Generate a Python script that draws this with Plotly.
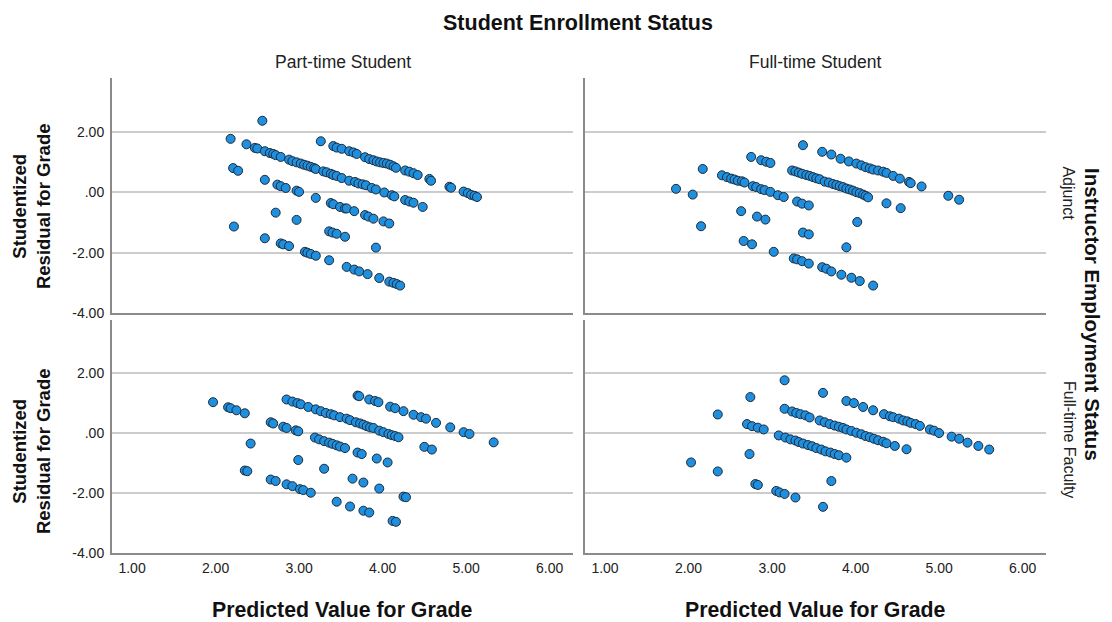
import plotly.graph_objects as go

# ---- data: (Predicted Value for Grade, Studentized Residual for Grade) ----
adjunct_part_time = [
    (2.56, 2.38), (2.18, 1.78), (2.37, 1.60), (2.47, 1.48), (2.50, 1.46), (2.59, 1.37), (2.65, 1.31),
    (2.69, 1.28), (2.72, 1.24), (2.78, 1.18), (2.88, 1.09), (2.92, 1.04), (2.97, 1.00), (3.02, 0.96),
    (3.06, 0.92), (3.10, 0.89), (3.14, 0.85), (3.18, 0.81), (3.20, 0.78), (3.29, 0.70), (3.33, 0.67),
    (3.38, 0.62), (3.41, 0.58), (3.45, 0.55), (3.51, 0.48), (3.60, 0.39), (3.67, 0.35), (3.71, 0.30),
    (3.76, 0.27), (3.80, 0.24), (3.87, 0.15), (3.92, 0.10), (4.02, 0.00), (4.11, -0.09), (4.14, -0.13),
    (4.27, -0.25), (4.32, -0.30), (4.37, -0.34), (4.48, -0.48),
    (3.26, 1.70), (3.41, 1.54), (3.45, 1.49), (3.51, 1.45), (3.60, 1.37), (3.65, 1.33), (3.69, 1.28),
    (3.79, 1.17), (3.84, 1.11), (3.89, 1.07), (3.93, 1.03), (3.97, 1.00), (4.01, 0.98), (4.05, 0.96),
    (4.09, 0.92), (4.13, 0.87), (4.16, 0.82), (4.27, 0.73), (4.32, 0.69), (4.37, 0.64), (4.42, 0.58),
    (4.56, 0.45), (4.58, 0.39), (4.80, 0.19), (4.82, 0.16), (4.97, 0.03), (5.02, -0.02), (5.06, -0.08),
    (5.10, -0.11), (5.13, -0.15),
    (2.21, 0.81), (2.27, 0.72), (2.59, 0.42), (2.74, 0.26), (2.78, 0.21), (2.84, 0.15), (2.97, 0.06),
    (3.00, 0.02), (3.20, -0.18), (3.38, -0.35), (3.41, -0.39), (3.49, -0.48), (3.55, -0.53), (3.57, -0.53),
    (3.66, -0.62), (3.79, -0.75), (3.83, -0.80), (3.89, -0.87), (4.01, -0.96), (4.08, -1.03),
    (2.72, -0.67), (2.97, -0.91), (2.22, -1.13), (3.36, -1.29), (3.40, -1.33), (3.45, -1.37), (3.55, -1.47),
    (3.92, -1.83), (2.59, -1.52), (2.78, -1.69), (2.81, -1.72), (2.88, -1.78), (3.07, -1.97), (3.10, -2.00),
    (3.14, -2.04), (3.20, -2.10), (3.36, -2.25), (3.57, -2.47), (3.66, -2.56), (3.72, -2.62), (3.82, -2.71),
    (3.96, -2.84), (4.08, -2.96), (4.13, -3.00), (4.17, -3.04), (4.21, -3.09),
]

adjunct_full_time = [
    (3.37, 1.57), (2.75, 1.18), (2.87, 1.07), (2.93, 1.02), (2.98, 0.98), (2.17, 0.78), (1.85, 0.12),
    (2.05, -0.07), (2.40, 0.57), (2.46, 0.51), (2.51, 0.46), (2.55, 0.43), (2.59, 0.39), (2.64, 0.37),
    (2.67, 0.33), (2.77, 0.21), (2.81, 0.18), (2.87, 0.11), (2.91, 0.08), (2.98, 0.02), (3.07, -0.09),
    (3.14, -0.15), (3.30, -0.30), (3.36, -0.37), (3.44, -0.43),
    (3.24, 0.73), (3.28, 0.70), (3.32, 0.66), (3.36, 0.62), (3.41, 0.58), (3.45, 0.55), (3.49, 0.51),
    (3.53, 0.47), (3.57, 0.44), (3.63, 0.36), (3.68, 0.33), (3.73, 0.28), (3.77, 0.25), (3.81, 0.21),
    (3.85, 0.18), (3.89, 0.13), (3.93, 0.10), (3.97, 0.06), (4.01, 0.01), (4.05, -0.02), (4.09, -0.07),
    (4.12, -0.11), (4.15, -0.16),
    (3.60, 1.35), (3.71, 1.26), (3.82, 1.12), (3.92, 1.03), (4.01, 0.96), (4.07, 0.90), (4.12, 0.84),
    (4.17, 0.80), (4.21, 0.76), (4.27, 0.73), (4.33, 0.69), (4.37, 0.65), (4.45, 0.55), (4.53, 0.46),
    (4.64, 0.35), (4.66, 0.31), (4.79, 0.20),
    (5.11, -0.11), (5.24, -0.24), (4.37, -0.36), (4.54, -0.52), (4.02, -0.98), (2.63, -0.62), (2.82, -0.80),
    (2.92, -0.90), (2.15, -1.12), (3.37, -1.33), (3.44, -1.39), (3.89, -1.82), (2.66, -1.61), (2.76, -1.72),
    (3.02, -1.97), (3.26, -2.19), (3.30, -2.22), (3.36, -2.28), (3.44, -2.36), (3.60, -2.48), (3.65, -2.53),
    (3.71, -2.62), (3.83, -2.73), (3.95, -2.83), (4.05, -2.94), (4.21, -3.09),
]

faculty_part_time = [
    (1.97, 1.03), (2.15, 0.86), (2.18, 0.83), (2.25, 0.76), (2.35, 0.66), (2.66, 0.36), (2.69, 0.32),
    (2.81, 0.21), (2.85, 0.17), (2.96, 0.09), (2.99, 0.06), (2.42, -0.35),
    (2.85, 1.12), (2.92, 1.05), (2.98, 1.00), (3.02, 0.96), (3.11, 0.87), (3.20, 0.79), (3.26, 0.73),
    (3.32, 0.67), (3.38, 0.63), (3.42, 0.59), (3.49, 0.53), (3.57, 0.48), (3.61, 0.43), (3.68, 0.36),
    (3.73, 0.32), (3.77, 0.28), (3.81, 0.23), (3.85, 0.19), (3.89, 0.17), (3.96, 0.08), (4.01, 0.03),
    (4.07, -0.03), (4.11, -0.07), (4.15, -0.10), (4.19, -0.14),
    (3.70, 1.25), (3.72, 1.23), (3.84, 1.12), (3.91, 1.07), (3.95, 1.03), (4.09, 0.88), (4.15, 0.83),
    (4.25, 0.73), (4.37, 0.61), (4.46, 0.53), (4.52, 0.48), (4.64, 0.34), (4.81, 0.19), (4.97, 0.03),
    (5.04, -0.03),
    (5.33, -0.31), (4.50, -0.46), (4.59, -0.55),
    (3.19, -0.15), (3.24, -0.21), (3.30, -0.27), (3.36, -0.32), (3.40, -0.36), (3.45, -0.41), (3.49, -0.45),
    (3.55, -0.50), (3.70, -0.65), (3.75, -0.70), (3.93, -0.85), (4.06, -0.98), (2.99, -0.90), (3.30, -1.19),
    (2.35, -1.25), (2.38, -1.27), (2.66, -1.55), (2.72, -1.60), (2.85, -1.71), (2.92, -1.77), (3.01, -1.87),
    (3.05, -1.90), (3.14, -1.99), (3.64, -1.52), (3.77, -1.65), (3.96, -1.85), (4.25, -2.12), (4.28, -2.14),
    (3.45, -2.29), (3.61, -2.45), (3.77, -2.59), (3.84, -2.65), (4.12, -2.93), (4.16, -2.96),
]

faculty_full_time = [
    (3.15, 1.76), (3.61, 1.34), (2.74, 1.20), (2.35, 0.62), (2.70, 0.30), (2.76, 0.23), (2.83, 0.18),
    (2.90, 0.12), (3.15, 0.81), (3.24, 0.72), (3.29, 0.67), (3.34, 0.63), (3.40, 0.59), (3.45, 0.52),
    (3.57, 0.42), (3.63, 0.36), (3.69, 0.30), (3.75, 0.25), (3.80, 0.21), (3.85, 0.17), (3.89, 0.12),
    (3.95, 0.07), (4.01, 0.01), (4.07, -0.04), (4.12, -0.10), (4.17, -0.14), (4.22, -0.19), (4.27, -0.24),
    (4.33, -0.29), (4.37, -0.34), (4.47, -0.43), (4.61, -0.54),
    (3.89, 1.07), (3.98, 1.00), (4.09, 0.87), (4.21, 0.76), (4.34, 0.63), (4.41, 0.56), (4.45, 0.53),
    (4.52, 0.48), (4.57, 0.42), (4.62, 0.39), (4.66, 0.34), (4.72, 0.30), (4.77, 0.24), (4.89, 0.12),
    (4.94, 0.08), (5.00, 0.00), (5.15, -0.12), (5.24, -0.19), (5.34, -0.32), (5.47, -0.43), (5.60, -0.55),
    (3.08, -0.08), (3.16, -0.15), (3.22, -0.21), (3.28, -0.25), (3.32, -0.30), (3.37, -0.35), (3.43, -0.40),
    (3.48, -0.44), (3.53, -0.50), (3.59, -0.55), (3.64, -0.61), (3.70, -0.65), (3.75, -0.70), (3.80, -0.74),
    (3.89, -0.82),
    (2.73, -0.70), (2.03, -0.98), (2.35, -1.28), (2.80, -1.70), (2.83, -1.73), (3.71, -1.60), (3.05, -1.93),
    (3.09, -1.98), (3.15, -2.03), (3.28, -2.15), (3.61, -2.46),
]

col_labels = ["Part-time Student", "Full-time Student"]
row_labels = ["Adjunct", "Full-time Faculty"]
x_ticks = [1, 2, 3, 4, 5, 6]
x_ticktext = ["1.00", "2.00", "3.00", "4.00", "5.00", "6.00"]
y_ticks = [-4, -2, 0, 2]
y_ticktext = ["-4.00", "-2.00", ".00", "2.00"]

FONT = "Liberation Sans, Arial, sans-serif"
MARKER_FILL = "#1f8fe0"
MARKER_EDGE = "#1c2b3a"
AXIS_COLOR = "#8a8a8a"
GRID_COLOR = "#cccccc"

fig = go.Figure()
panels = [
    (adjunct_part_time, "x3", "y3"),
    (adjunct_full_time, "x4", "y4"),
    (faculty_part_time, "x", "y"),
    (faculty_full_time, "x2", "y2"),
]
for pts, xa, ya in panels:
    fig.add_trace(go.Scatter(
        x=[p[0] for p in pts], y=[p[1] for p in pts], xaxis=xa, yaxis=ya,
        mode="markers", showlegend=False, hoverinfo="x+y",
        marker=dict(size=9, color=MARKER_FILL, line=dict(color=MARKER_EDGE, width=1)),
    ))

xdom_l = [0, 0.4936]
xdom_r = [0.5064, 1]
ydom_t = [0.5053, 1]
ydom_b = [0, 0.4905]
xrange_ = [0.76, 6.28]

def xax(domain, anchor, labels):
    return dict(domain=domain, anchor=anchor, range=xrange_, tickvals=x_ticks, ticktext=x_ticktext,
                showticklabels=labels, showgrid=False, zeroline=False, showline=True,
                linecolor=AXIS_COLOR, linewidth=2, ticks="outside", ticklen=1,
                tickcolor="rgba(0,0,0,0)", tickfont=dict(family=FONT, size=14, color="#222"))

def yax(domain, anchor, rng, labels):
    return dict(domain=domain, anchor=anchor, range=rng, tickvals=y_ticks, ticktext=y_ticktext,
                showticklabels=labels, showgrid=True, gridcolor=GRID_COLOR, gridwidth=1.5,
                zeroline=False, showline=True, linecolor=AXIS_COLOR, linewidth=2,
                ticks="outside", ticklen=3, tickcolor="rgba(0,0,0,0)",
                tickfont=dict(family=FONT, size=14, color="#222"))

# page body adds an 8px offset, so the figure is 8px smaller on the top/left margins
fig.update_layout(
    width=1104, height=614,
    margin=dict(l=104, r=66, t=70, b=69),
    paper_bgcolor="white", plot_bgcolor="white",
    font=dict(family=FONT, color="#111"),
    xaxis=xax(xdom_l, "y", True),
    xaxis2=xax(xdom_r, "y2", True),
    xaxis3=xax(xdom_l, "y3", False),
    xaxis4=xax(xdom_r, "y4", False),
    yaxis=yax(ydom_b, "x", [-4, 3.77], True),
    yaxis2=yax(ydom_b, "x2", [-4, 3.77], False),
    yaxis3=yax(ydom_t, "x3", [-4, 3.8], True),
    yaxis4=yax(ydom_t, "x4", [-4, 3.8], False),
)

def note(text, x, y, size, angle=0, color="#111"):
    return dict(text=text, x=x, y=y, xref="paper", yref="paper", showarrow=False,
                xanchor="center", yanchor="middle", textangle=angle,
                font=dict(size=size, family=FONT, color=color))

ann = [note("<b>Student Enrollment Status</b>", 0.499, 1.116, 21.5)]
for lbl, xc in zip(col_labels, [sum(xdom_l) / 2, sum(xdom_r) / 2]):
    ann.append(note(lbl, xc, 1.0337, 17.5, color="#222"))
    ann.append(note("<b>Predicted Value for Grade</b>", xc, -0.12, 21.3))
for lbl, yc, ytitle in zip(row_labels, [0.757, 0.238], [0.7305, 0.2147]):
    ann.append(note(lbl, 1.0246, yc, 16, angle=90, color="#222"))
    ann.append(note("<b>Studentized<br>Residual for Grade</b>", -0.0867, ytitle, 18.5, angle=-90))
ann.append(note("<b>Instructor Employment Status</b>", 1.0503, 0.501, 20.5, angle=90))
fig.update_layout(annotations=ann)

fig.write_html("out.html")
